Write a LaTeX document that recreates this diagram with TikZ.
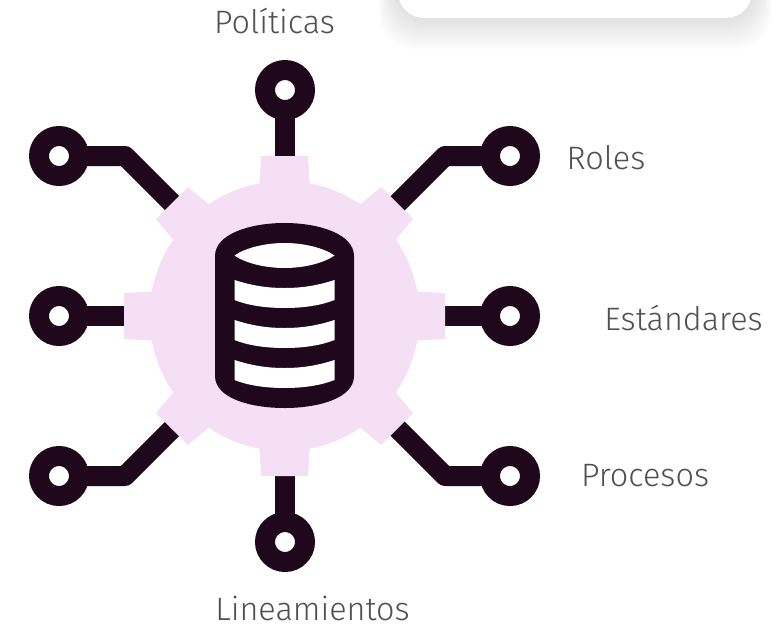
\documentclass[tikz,border=0pt]{standalone}
\usepackage{fontspec}
\setmainfont{Fira Sans Light}
\definecolor{ink}{HTML}{1F081C}
\definecolor{gearpink}{HTML}{F4DFF4}
\definecolor{labelgray}{HTML}{505050}
\tikzset{
  ringnode/.style={circle,draw=ink,line width=20pt,minimum size=40pt,inner sep=0pt,fill=white},
  wire/.style={draw=ink,line width=20pt,line join=round,shorten <=-4pt},
  gearfill/.style={fill=gearpink,draw=none},
  lab/.style={text=labelgray,font=\fontsize{32.4}{36}\selectfont,inner sep=0pt,anchor=base}
}
\begin{document}
\begin{tikzpicture}[x=1pt,y=-1pt]
\useasboundingbox (0,0) rectangle (784,624);
% card with soft shadow
\foreach \i in {1,...,16}{
  \fill[black,opacity=0.0085,rounded corners=36pt] ({398-\i*1.1-2},-60) rectangle ({752+\i*1.1+2},{16+\i*2.1});
}
\node[draw=none,fill=white,rounded corners=26pt,minimum width=354pt,minimum height=78pt,inner sep=0pt] (card) at (575,-21) {};
% rings
\node[ringnode] (top) at (285,90) {};
\node[ringnode] (bottom) at (285,542) {};
\node[ringnode] (tl) at (59,156) {};
\node[ringnode] (ml) at (59,316) {};
\node[ringnode] (bl) at (59,476) {};
\node[ringnode] (tr) at (510,156) {};
\node[ringnode] (mr) at (510,316) {};
\node[ringnode] (br) at (510,476) {};
% connector ends, hidden under the gear
\coordinate (gt) at (285,170);
\coordinate (gb) at (285,462);
\coordinate (gl) at (135,316);
\coordinate (gr) at (435,316);
\coordinate (gtl) at (180,211);
\coordinate (gtr) at (390,211);
\coordinate (gbl) at (180,421);
\coordinate (gbr) at (390,421);
\coordinate (btl) at (125,156);
\coordinate (btr) at (445,156);
\coordinate (bbl) at (125,476);
\coordinate (bbr) at (445,476);
\draw[wire] (top) -- (gt);
\draw[wire] (bottom) -- (gb);
\draw[wire] (ml) -- (gl);
\draw[wire] (mr) -- (gr);
\draw[wire] (tl) -- (btl) -- (gtl);
\draw[wire] (tr) -- (btr) -- (gtr);
\draw[wire] (bl) -- (bbl) -- (gbl);
\draw[wire] (br) -- (bbr) -- (gbr);
% gear
\node[circle,gearfill,minimum size=270pt,inner sep=0pt] (gear) at (284.5,316) {};
\fill[gearpink] (261,156) -- (308,156) -- (310,190) -- (259,190) -- cycle;
\fill[gearpink] (261,476) -- (308,476) -- (310,442) -- (259,442) -- cycle;
\fill[gearpink] (124,293) -- (124,339) -- (160,341) -- (160,291) -- cycle;
\fill[gearpink] (445,293) -- (445,339) -- (409,341) -- (409,291) -- cycle;
\fill[gearpink] (188,187) -- (156,219) -- (176,243) -- (212,207) -- cycle;
\fill[gearpink] (381,187) -- (413,219) -- (393,243) -- (357,207) -- cycle;
\fill[gearpink] (188,445) -- (156,413) -- (176,389) -- (212,425) -- cycle;
\fill[gearpink] (381,445) -- (413,413) -- (393,389) -- (357,425) -- cycle;
% database
\fill[ink] (215,256) .. controls (215,234) and (250,223) .. (284.5,223) .. controls (319,223) and (354,234) .. (354,256)
  -- (354,376) .. controls (354,398) and (319,408) .. (284.5,408) .. controls (250,408) and (215,398) .. (215,376) -- cycle;
\fill[white] (234.5,255.5) .. controls (245,248) and (265,243) .. (284.5,243) .. controls (304,243) and (324,248) .. (334.5,255.5)
  .. controls (324,263) and (304,268) .. (284.5,268) .. controls (265,268) and (245,263) .. (234.5,255.5) -- cycle;
\foreach \d in {0,40,80}{
  \fill[white] (234.5,280+\d) .. controls (250,285+\d) and (265,288+\d) .. (284.5,288+\d) .. controls (304,288+\d) and (319,285+\d) .. (334.5,280+\d)
   -- (334.5,300+\d) .. controls (322,305+\d) and (305,308+\d) .. (284.5,308+\d) .. controls (264,308+\d) and (247,305+\d) .. (234.5,300+\d) -- cycle;
}
% labels
\node[lab] (politicas) at (274.5,33) {Políticas};
\node[lab] (roles) at (606,169) {Roles};
\node[lab] (estandares) at (683.5,330) {Estándares};
\node[lab] (procesos) at (645,486) {Procesos};
\node[lab] (lineamientos) at (312.5,620) {Lineamientos};
\end{tikzpicture}
\end{document}
